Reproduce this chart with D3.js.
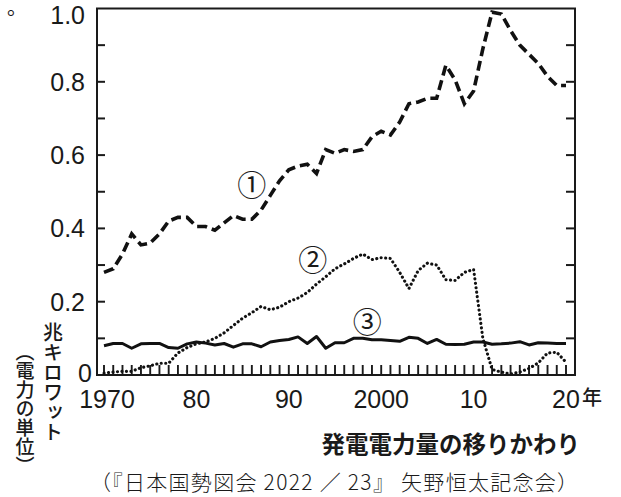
<!DOCTYPE html>
<html>
<head>
<meta charset="utf-8">
<script src="https://cdn.jsdelivr.net/npm/d3@7"></script>
<style>
  body { margin: 0; background: #fff; }
  svg { display: block; }
  .num { font-family: "Liberation Sans", Arial, sans-serif; fill: #1a1a1a; }
  .jp { font-family: "Noto Sans CJK JP", sans-serif; fill: #1a1a1a; }
</style>
</head>
<body>
<div id="chart"></div>
<script>
// years 1970..2020
const years = d3.range(1970, 2021);

// ① thermal (dashed)
const thermal = [0.28, 0.29, 0.33, 0.385, 0.355, 0.36, 0.385, 0.42, 0.43, 0.43,
  0.405, 0.405, 0.395, 0.415, 0.435, 0.425, 0.425, 0.45, 0.49, 0.53,
  0.56, 0.57, 0.575, 0.55, 0.615, 0.605, 0.615, 0.61, 0.615, 0.65,
  0.665, 0.655, 0.69, 0.74, 0.745, 0.755, 0.755, 0.845, 0.805, 0.74,
  0.775, 0.89, 0.99, 0.985, 0.94, 0.9, 0.875, 0.85, 0.815, 0.79, 0.79];

// ② nuclear (dotted)
const nuclear = [0.005, 0.008, 0.01, 0.01, 0.02, 0.025, 0.032, 0.032, 0.06, 0.075,
  0.085, 0.09, 0.1, 0.115, 0.135, 0.155, 0.17, 0.187, 0.178, 0.185,
  0.2, 0.21, 0.225, 0.248, 0.268, 0.29, 0.303, 0.318, 0.33, 0.315,
  0.32, 0.318, 0.28, 0.236, 0.285, 0.305, 0.3, 0.26, 0.258, 0.28,
  0.288, 0.1, 0.015, 0.008, 0.003, 0.008, 0.018, 0.033, 0.06, 0.062, 0.035];

// ③ hydro (solid)
const hydro = [0.08, 0.086, 0.086, 0.073, 0.085, 0.086, 0.086, 0.075, 0.073, 0.085,
  0.09, 0.087, 0.082, 0.086, 0.076, 0.085, 0.085, 0.077, 0.09, 0.094,
  0.097, 0.104, 0.086, 0.105, 0.073, 0.088, 0.088, 0.1, 0.1, 0.096,
  0.096, 0.094, 0.092, 0.103, 0.1, 0.086, 0.097, 0.084, 0.083, 0.084,
  0.09, 0.09, 0.084, 0.085, 0.087, 0.091, 0.082, 0.088, 0.087, 0.086, 0.086];

const yLabels = [0, 0.2, 0.4, 0.6, 0.8, 1.0];
const xLabels = [[1970, "1970"], [1980, "80"], [1990, "90"], [2000, "2000"], [2010, "10"], [2020, "20"]];

const width = 621, height = 497;
const svg = d3.select("#chart").append("svg")
  .attr("width", width).attr("height", height);

const x = d3.scaleLinear().domain([1970, 2020]).range([104, 566]);
const y = d3.scaleLinear().domain([0, 1]).range([375, 8.5]);

const boxL = 97, boxR = 575, boxT = y(1), boxB = y(0);
const ink = "#1a1a1a";

// frame
svg.append("rect")
  .attr("x", boxL).attr("y", boxT)
  .attr("width", boxR - boxL).attr("height", boxB - boxT)
  .attr("fill", "none").attr("stroke", ink).attr("stroke-width", 2);

// y ticks, inward on both sides
const yTicks = d3.range(1, 10).map(i => i / 10);
const ticks = svg.append("g").attr("stroke", ink).attr("stroke-width", 2);
ticks.selectAll("line.yl").data(yTicks).join("line")
  .attr("class", "yl")
  .attr("x1", boxL).attr("x2", boxL + 8)
  .attr("y1", d => y(d)).attr("y2", d => y(d));
ticks.selectAll("line.yr").data(yTicks).join("line")
  .attr("class", "yr")
  .attr("x1", boxR - 9).attr("x2", boxR)
  .attr("y1", d => y(d)).attr("y2", d => y(d));

// x ticks every year, upward
ticks.selectAll("line.xt").data(years).join("line")
  .attr("class", "xt")
  .attr("stroke-width", 1.9)
  .attr("x1", d => x(d)).attr("x2", d => x(d))
  .attr("y1", boxB).attr("y2", boxB - 10);

// y labels
svg.append("g").selectAll("text")
  .data(yLabels).join("text")
  .attr("class", "num")
  .attr("x", d => d === 0 ? 92 : 85)
  .attr("y", d => d === 0 ? 382 : y(d) + (d === 1 ? 15 : 9))
  .attr("text-anchor", "end")
  .attr("font-size", 25)
  .text(d => d === 0 ? "0" : d.toFixed(1));

// x labels
svg.append("g").selectAll("text")
  .data(xLabels).join("text")
  .attr("class", "num")
  .attr("x", d => x(d[0]) + (d[0] === 1970 ? 3 : 0))
  .attr("y", 408)
  .attr("text-anchor", "middle")
  .attr("font-size", 25)
  .text(d => d[1]);
svg.append("text").attr("class", "jp")
  .attr("x", 582).attr("y", 405)
  .attr("font-size", 20).attr("font-weight", 500)
  .text("年");

// lines
const line = vals => d3.line().x((d, i) => x(years[i])).y(d => y(d))(vals);

svg.append("path").attr("d", line(hydro))
  .attr("fill", "none").attr("stroke", "#111").attr("stroke-width", 3)
  .attr("stroke-linejoin", "round");

svg.append("path").attr("d", line(nuclear))
  .attr("fill", "none").attr("stroke", "#111").attr("stroke-width", 3.1)
  .attr("stroke-linecap", "round").attr("stroke-dasharray", "0.1,4.4");

svg.append("path").attr("d", line(thermal))
  .attr("fill", "none").attr("stroke", "#111").attr("stroke-width", 3.6)
  .attr("stroke-dasharray", "10,5");

// circled series numbers
const marks = [["①", 1986, 0.525], ["②", 1992.6, 0.32], ["③", 1998.5, 0.15]];
svg.append("g").selectAll("text")
  .data(marks).join("text")
  .attr("class", "jp")
  .attr("x", d => x(d[1]))
  .attr("y", d => y(d[2]))
  .attr("text-anchor", "middle")
  .attr("dominant-baseline", "central")
  .attr("font-size", 29)
  .text(d => d[0]);

// unit labels (vertical)
svg.append("text").attr("class", "jp")
  .attr("x", 53).attr("y", 322)
  .attr("font-size", 20).attr("font-weight", 500)
  .style("writing-mode", "vertical-rl")
  .text("兆キロワット");
svg.append("text").attr("class", "jp")
  .attr("x", 25).attr("y", 342)
  .attr("font-size", 19).attr("font-weight", 500)
  .style("writing-mode", "vertical-rl")
  .text("（電力の単位）");

// title and source
svg.append("text").attr("class", "jp")
  .attr("x", 580).attr("y", 453)
  .attr("text-anchor", "end")
  .attr("font-size", 23.5).attr("font-weight", 700)
  .text("発電電力量の移りかわり");
svg.append("text").attr("class", "jp")
  .attr("x", 90).attr("y", 490)
  .attr("textLength", 488).attr("lengthAdjust", "spacing")
  .attr("font-size", 21).attr("font-weight", 300)
  .text("（『日本国勢図会 2022 ／ 23』 矢野恒太記念会）");

// stray period from preceding text
svg.append("text").attr("class", "jp")
  .attr("x", 7).attr("y", 15)
  .attr("font-size", 20)
  .text("。");
</script>
</body>
</html>
